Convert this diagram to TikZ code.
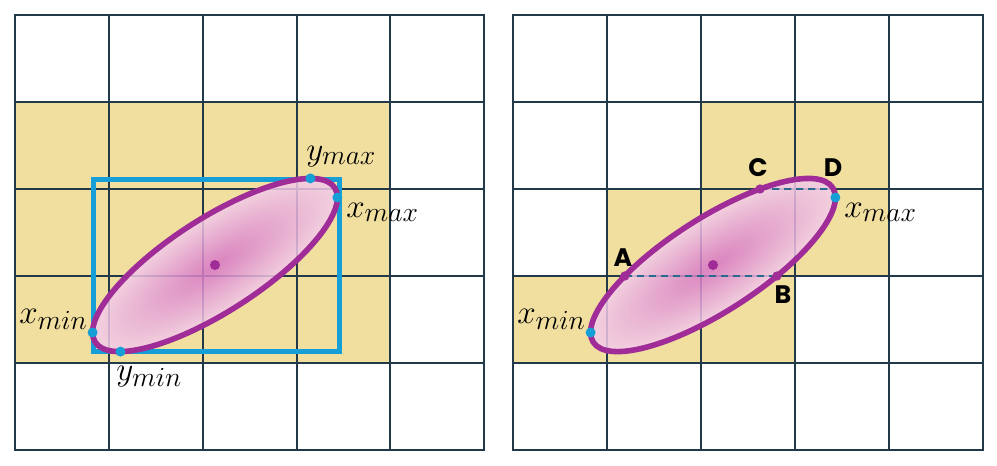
\documentclass[tikz,border=0pt]{standalone}
\usepackage{fontspec}
\newfontfamily\labfont{Poppins}
\usetikzlibrary{intersections}
\definecolor{cellyellow}{HTML}{F1DFA0}
\definecolor{gridc}{HTML}{22394A}
\definecolor{rectblue}{HTML}{169ED6}
\definecolor{ellpurple}{HTML}{A02C98}
\definecolor{shadein}{HTML}{D674C4}
\definecolor{shadeout}{HTML}{F3CFEA}
\definecolor{dashc}{HTML}{2A6A8E}
\begin{document}
\begin{tikzpicture}[x=0.75pt,y=-0.75pt,
  gridline/.style={draw=gridc,line width=1.5pt},
  cell/.style={fill=cellyellow},
  ell/.style={draw=ellpurple,line width=4.2pt},
  ellshade/.style={inner color=shadein,outer color=shadeout,fill opacity=0.85},
  bluerect/.style={draw=rectblue,line width=4.2pt},
  bluedot/.style={circle,fill=rectblue,inner sep=0pt,minimum size=7.5pt},
  purpledot/.style={circle,fill=ellpurple,inner sep=0pt,minimum size=7pt},
  centerdot/.style={circle,fill=ellpurple,inner sep=0pt,minimum size=7.5pt},
  mathlab/.style={inner sep=0pt,font=\fontsize{28.5}{34}\selectfont},
  letlab/.style={inner sep=0pt,font=\labfont\bfseries\fontsize{19}{22}\selectfont},
  dashln/.style={draw=dashc,line width=1.4pt,dash pattern=on 5.5pt off 3.5pt}]
\useasboundingbox (0,0) rectangle (997,465);

% ---------------- left panel ----------------
\fill[cell] (15,102) rectangle (390,363);
\foreach \x in {109,203,296.5,390} \draw[gridline] (\x,15) -- (\x,450);
\foreach \y in {102,189,276,363} \draw[gridline] (15,\y) -- (484,\y);
\draw[gridline] (15,15) rectangle (484,450);

\draw[bluerect] (93.5,179.5) rectangle (339.5,351.5);
\shade[ellshade, transform canvas={shift={(215,265)},rotate=32.8}] (0,0) ellipse (142.5 and 46.6);
\draw[ell, rotate around={32.8:(215,265)}] (215,265) ellipse (142.5 and 46.6);
\node[centerdot] (c1) at (215,265) {};

\node[bluedot] (xmin1) at (92.6,332.5) {};
\node[bluedot] (ymin1) at (120.5,351.6) {};
\node[bluedot] (ymax1) at (310.4,178.4) {};
\node[bluedot] (xmax1) at (337.4,197.5) {};

\node[mathlab, anchor=base west] (lxmin1) at (19,323) {$x_{min}$};
\node[mathlab, anchor=base west] (lymin1) at (116,380) {$y_{min}$};
\node[mathlab, anchor=base west] (lymax1) at (306,160) {$y_{max}$};
\node[mathlab, anchor=base west] (lxmax1) at (346,217) {$x_{max}$};

% ---------------- right panel ----------------
\fill[cell] (701,102) rectangle (889,189);
\fill[cell] (607,189) rectangle (889,276);
\fill[cell] (513,276) rectangle (795,363);
\foreach \x in {607,701,795,889} \draw[gridline] (\x,15) -- (\x,450);
\foreach \y in {102,189,276,363} \draw[gridline] (513,\y) -- (983,\y);
\draw[gridline] (513,15) rectangle (983,450);

\shade[ellshade, transform canvas={shift={(713,265)},rotate=32.8}] (0,0) ellipse (142.5 and 46.6);
\path[name path=ell2, rotate around={32.8:(713,265)}] (713,265) ellipse (142.5 and 46.6);
\path[name path=lineAB] (560,276) -- (860,276);
\path[name path=lineCD] (560,189) -- (880,189);
\path[name intersections={of=ell2 and lineAB, sort by=lineAB, by={A,B}}];
\path[name intersections={of=ell2 and lineCD, sort by=lineCD, by={C,D}}];
\draw[dashln] (A) -- (B);
\draw[dashln] (C) -- (D);
\draw[ell, rotate around={32.8:(713,265)}] (713,265) ellipse (142.5 and 46.6);
\node[centerdot] (c2) at (713,265) {};
\node[purpledot] (dA) at (A) {};
\node[purpledot] (dB) at (B) {};
\node[purpledot] (dC) at (C) {};

\node[bluedot] (xmin2) at (590.6,332.5) {};
\node[bluedot] (xmax2) at (835.4,197.5) {};

\node[mathlab, anchor=base west] (lxmin2) at (517,323) {$x_{min}$};
\node[mathlab, anchor=base west] (lxmax2) at (844,217) {$x_{max}$};

\node[letlab] (lA) at (623,258) {A};
\node[letlab] (lB) at (783,295) {B};
\node[letlab] (lC) at (758,168) {C};
\node[letlab] (lD) at (833,168) {D};
\end{tikzpicture}
\end{document}
